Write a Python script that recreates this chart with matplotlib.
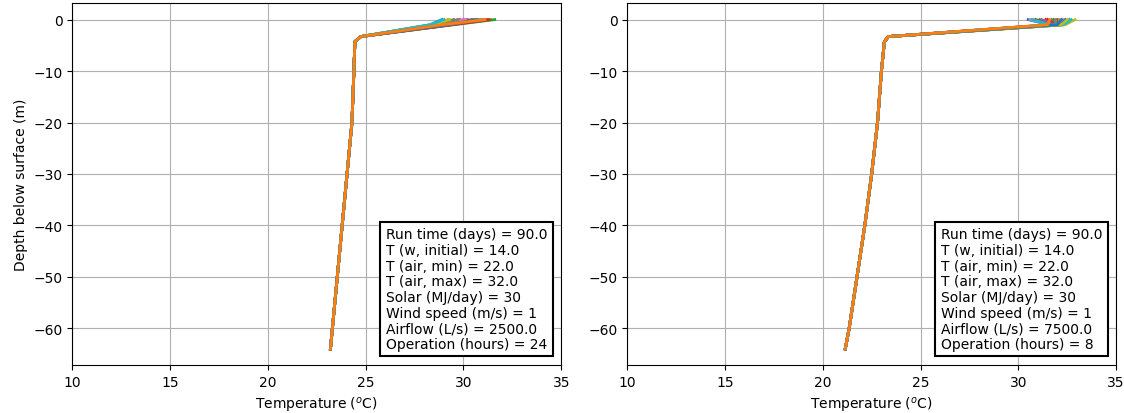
import numpy as np
import matplotlib
matplotlib.use("Agg")
import matplotlib.pyplot as plt

# depth of each node below the surface (m)
depth = [0, -1, -3.3, -4.3, -10, -20, -30, -40, -50, -60, -64]

# left run: surface and 1 m temperatures change from day to day, deeper part hardly moves
surf_left = [28.9, 29.2, 29.5, 29.8, 30.0, 30.2, 30.4, 30.6, 30.8, 31.0, 31.2,
             31.4, 31.6, 31.3, 30.9, 30.5, 30.1, 29.7, 29.3, 29.0, 30.7, 31.1]
top_left = [28.3, 28.4, 28.5, 28.6, 28.7, 28.8, 28.9, 29.0, 29.1, 29.2, 29.3,
            29.4, 29.5, 29.4, 29.2, 29.0, 28.8, 28.6, 28.4, 28.3, 29.1, 28.9]
deep_left = [24.75, 24.45, 24.4, 24.3, 24.05, 23.8, 23.55, 23.3, 23.2]

# right run
surf_right = [30.5, 30.8, 31.1, 31.4, 31.7, 32.0, 32.3, 32.6, 32.9, 32.7, 32.4,
              32.1, 31.8, 31.5, 31.2, 30.9, 30.6, 31.9, 32.5, 30.7, 32.2, 31.6]
top_right = [31.6, 31.7, 31.8, 31.9, 32.0, 32.1, 32.2, 32.3, 32.4, 32.3, 32.2,
             32.1, 32.0, 31.9, 31.8, 31.7, 31.6, 31.9, 32.2, 31.6, 32.0, 31.5]
deep_right = [23.35, 23.15, 23.0, 22.8, 22.5, 22.15, 21.75, 21.35, 21.15]

info_left = ("Run time (days) = 90.0\nT (w, initial) = 14.0\nT (air, min) = 22.0\n"
             "T (air, max) = 32.0\nSolar (MJ/day) = 30\nWind speed (m/s) = 1\n"
             "Airflow (L/s) = 2500.0\nOperation (hours) = 24")
info_right = ("Run time (days) = 90.0\nT (w, initial) = 14.0\nT (air, min) = 22.0\n"
              "T (air, max) = 32.0\nSolar (MJ/day) = 30\nWind speed (m/s) = 1\n"
              "Airflow (L/s) = 7500.0\nOperation (hours) = 8")

fig = plt.figure(figsize=(11.24, 4.14), dpi=100)
ax1 = fig.add_axes([0.0643, 0.115, 0.435, 0.875])
ax2 = fig.add_axes([0.5580, 0.115, 0.435, 0.875])

panels = [(ax1, surf_left, top_left, deep_left, info_left),
          (ax2, surf_right, top_right, deep_right, info_right)]

for ax, surf, top, deep, info in panels:
    for i in range(len(surf)):
        temps = [surf[i], top[i]] + deep
        ax.plot(temps, depth, lw=2)
    ax.set_xlim(10, 35)
    ax.set_xlabel("Temperature ($^o$C)")
    ax.grid(True)
    ax.text(0.972, 0.04, info, transform=ax.transAxes, ha="right", va="bottom",
            multialignment="left", fontsize=10, linespacing=1.15,
            bbox=dict(boxstyle="square,pad=0.4", facecolor="white",
                      edgecolor="black", linewidth=1.5))

ax1.set_ylabel("Depth below surface (m)")

fig.savefig("out.png", dpi=100)
